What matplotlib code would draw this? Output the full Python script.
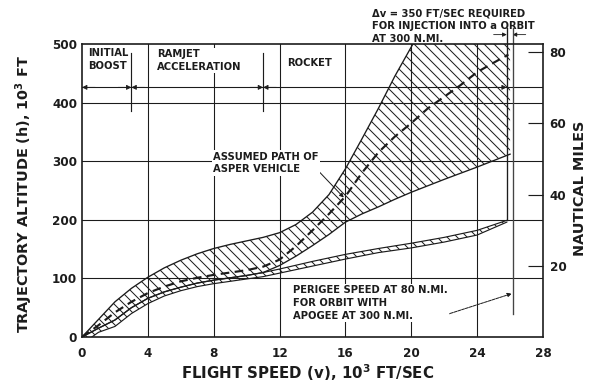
import matplotlib.pyplot as plt

# flight speed (10^3 ft/sec) / altitude (10^3 ft)
v_upper = [0, 1, 2, 3, 4, 5, 6, 7, 8, 9, 10, 11, 12, 13, 14, 15, 16, 17, 18, 19, 20.1]
h_upper = [0, 30, 60, 83, 102, 118, 131, 142, 151, 158, 164, 170, 178, 192, 213, 243, 287, 338, 390, 445, 500]

v_lower = [0, 1, 2, 3, 4, 5, 6, 7, 8, 9, 10, 11, 12, 13, 14, 15, 16, 17, 18, 19, 20, 22, 24, 26.0]
h_lower = [0, 15, 29, 50, 66, 77, 85, 92, 97, 101, 105, 110, 122, 138, 156, 175, 196, 210, 222, 235, 247, 269, 290, 312]

v_path = [0, 1, 2, 3, 4, 5, 6, 7, 8, 9, 10, 11, 12, 13, 14, 15, 16, 17, 18, 19, 20, 21, 22, 23, 24, 25, 25.9]
h_path = [0, 20, 42, 60, 75, 86, 95, 101, 106, 110, 114, 120, 132, 155, 182, 210, 240, 280, 315, 342, 365, 390, 410, 430, 452, 468, 482]

v_orbit_top = [0, 1, 2, 3, 4, 5, 6, 7, 8, 9, 10, 11, 12, 14, 16, 18, 20, 22, 24, 25.8]
h_orbit_top = [0, 15, 29, 50, 66, 77, 85, 92, 97, 101, 105, 110, 116, 129, 141, 151, 160, 170, 182, 199]
v_orbit_bot = [0.6, 1, 2, 3, 4, 5, 6, 7, 8, 9, 10, 11, 12, 14, 16, 18, 20, 22, 24, 25.8]
h_orbit_bot = [0, 8, 18, 40, 57, 70, 79, 86, 91, 95, 99, 103, 109, 121, 133, 144, 152, 162, 174, 196]

phase_edges = [0, 3, 11, 25.8]
dv_lines = [25.8, 26.15]
ft_per_nmi = 6.076  # 10^3 ft per nautical mile

ink = "#1c1c1c"
plt.rcParams["hatch.linewidth"] = 0.6
plt.rcParams["font.family"] = "DejaVu Sans"
plt.rcParams["font.weight"] = "bold"

fig = plt.figure(figsize=(5, 389 / 120), dpi=120)
ax = fig.add_axes([0.1367, 0.1337, 0.7683, 0.7532])
ax.set_xlim(0, 28)
ax.set_ylim(0, 500)

# grid
for x in [4, 8, 12, 16, 20, 24]:
    ax.axvline(x, color=ink, lw=0.65, zorder=1)
for y in [100, 200, 300, 400, 426]:
    ax.axhline(y, color=ink, lw=0.65, zorder=1)

# hatched region of possible paths
poly_v = v_upper + [26.0] + v_lower[::-1]
poly_h = h_upper + [500] + h_lower[::-1]
ax.fill(poly_v, poly_h, facecolor="none", edgecolor=ink, hatch="\\\\\\\\", lw=0, zorder=2)
ax.plot(v_upper, h_upper, color=ink, lw=0.8, zorder=3)
ax.plot(v_lower, h_lower, color=ink, lw=0.8, zorder=3)

# orbit band
ax.fill(v_orbit_top + v_orbit_bot[::-1], h_orbit_top + h_orbit_bot[::-1],
        facecolor="none", edgecolor=ink, hatch="\\\\\\\\", lw=0, zorder=2)
ax.plot(v_orbit_top, h_orbit_top, color=ink, lw=0.7, zorder=3)
ax.plot(v_orbit_bot, h_orbit_bot, color=ink, lw=0.7, zorder=3)

# assumed path
ax.plot(v_path, h_path, color=ink, lw=1.3, ls=(0, (4, 2.5)), zorder=4)

# delta-v lines at the orbit speed
ax.plot([dv_lines[0]] * 2, [h_orbit_top[-1], 528], color=ink, lw=0.8, clip_on=False, zorder=4)
ax.plot([dv_lines[1]] * 2, [40, 528], color="#444444", lw=0.8, clip_on=False, zorder=4)
for tip, tail in [(dv_lines[0], dv_lines[0] - 0.8), (dv_lines[1], dv_lines[1] + 0.8)]:
    ax.annotate("", xy=(tip, 516), xytext=(tail, 516), annotation_clip=False,
                arrowprops=dict(arrowstyle="-|>", lw=0.5, color=ink, mutation_scale=5,
                                shrinkA=0, shrinkB=0))

# flight phases
for x in phase_edges[1:3]:
    ax.plot([x, x], [386, 485], color=ink, lw=0.7, zorder=2)
for i, x in enumerate(phase_edges):
    if i > 0:
        ax.annotate("", xy=(x, 426), xytext=(x - 0.8, 426),
                    arrowprops=dict(arrowstyle="-|>", lw=0.5, color=ink, mutation_scale=6,
                                    shrinkA=0, shrinkB=0))
    if i < len(phase_edges) - 1:
        ax.annotate("", xy=(x, 426), xytext=(x + 0.8, 426),
                    arrowprops=dict(arrowstyle="-|>", lw=0.5, color=ink, mutation_scale=6,
                                    shrinkA=0, shrinkB=0))

txt = dict(fontsize=6, color=ink, fontweight="bold", linespacing=1.35)
box = dict(facecolor="white", edgecolor="none", pad=0.8)
ax.text(0.35, 474, "INITIAL\nBOOST", va="center", ha="left", zorder=5, **txt)
ax.text(4.55, 472, "RAMJET\nACCELERATION", va="center", ha="left", zorder=5, bbox=box, **txt)
ax.text(12.45, 468, "ROCKET", va="center", ha="left", zorder=5, **txt)

ax.annotate("ASSUMED PATH OF\nASPER VEHICLE", xy=(15.9, 238), xytext=(7.95, 297),
            va="center", ha="left", zorder=5, bbox=box,
            arrowprops=dict(arrowstyle="-|>", lw=0.6, color=ink, mutation_scale=5,
                            shrinkA=0, shrinkB=0, relpos=(1.0, 0.15)), **txt)

ax.text(12.8, 58, "PERIGEE SPEED AT 80 N.MI.\nFOR ORBIT WITH\nAPOGEE AT 300 N.MI.",
        va="center", ha="left", zorder=5, bbox=box, **txt)
ax.annotate("", xy=(26.1, 74), xytext=(21.9, 36),
            arrowprops=dict(arrowstyle="-|>", lw=0.6, color=ink, mutation_scale=5,
                            shrinkA=0, shrinkB=0, ls=(0, (3, 1))))

ax.text(17.6, 530, "\u0394v = 350 FT/SEC REQUIRED\nFOR INJECTION INTO a ORBIT\nAT 300 N.MI.",
        va="center", ha="left", clip_on=False, **txt)

# axes styling
for s in ax.spines.values():
    s.set_color(ink)
    s.set_linewidth(1.0)
    s.set_zorder(6)
ax.set_xticks(range(0, 29, 4))
ax.set_yticks(range(0, 501, 100))
ax.tick_params(length=0, labelsize=7.2, colors=ink)
ax.tick_params(axis="x", pad=6)
ax.tick_params(axis="y", pad=3)

ax2 = ax.twinx()
ax2.set_ylim(0, 500 / ft_per_nmi)
ax2.set_yticks([20, 40, 60, 80])
ax2.tick_params(direction="in", length=9, width=0.7, pad=4, labelsize=7.2, colors=ink)
for s in ax2.spines.values():
    s.set_visible(False)

fig.text(0.04, 0.5, "TRAJECTORY ALTITUDE (h), 10$^3$ FT", rotation=90,
         ha="center", va="center", fontsize=8.6, color=ink, fontweight="bold")
fig.text(0.512, 0.041, "FLIGHT SPEED (v), 10$^3$ FT/SEC",
         ha="center", va="center", fontsize=9, color=ink, fontweight="bold")
fig.text(0.967, 0.517, "NAUTICAL MILES", rotation=90,
         ha="center", va="center", fontsize=8.6, color=ink, fontweight="bold")

fig.savefig("out.png", dpi=120, facecolor="white")
